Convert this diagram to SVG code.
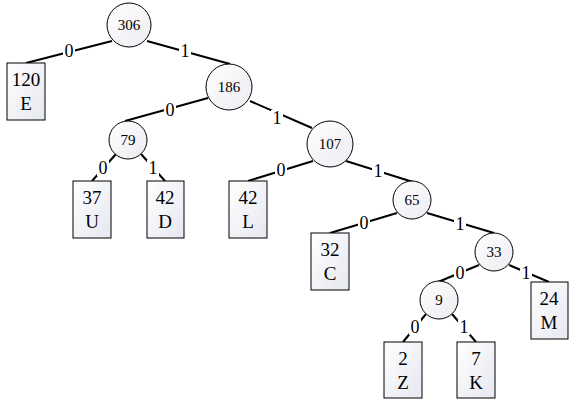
<svg xmlns="http://www.w3.org/2000/svg" width="570" height="403" viewBox="0 0 570 403">
<defs>
<linearGradient id="gb" x1="0" y1="0" x2="1" y2="1">
<stop offset="0" stop-color="#ffffff"/><stop offset="1" stop-color="#e6e8f0"/>
</linearGradient>
<linearGradient id="gc" x1="0" y1="0" x2="1" y2="1">
<stop offset="0" stop-color="#ffffff"/><stop offset="1" stop-color="#ececf2"/>
</linearGradient>
</defs>
<style>
.e{stroke:#000;stroke-width:2;fill:none}
.c{fill:url(#gc);stroke:#000;stroke-width:1}
.b{fill:url(#gb);stroke:#000;stroke-width:1}
text{font-family:"Liberation Serif","Times New Roman",serif;fill:#000;text-anchor:middle}
.cn{font-size:15px}
.bn{font-size:19px}
.lb{font-size:18px}
.lbg{fill:#fff;stroke:none}
</style>
<rect width="570" height="403" fill="#fff"/>
<g id="connectors">
<line class="e" x1="26" y1="63" x2="112" y2="41"/>
<line class="e" x1="147" y1="41" x2="230" y2="64"/>
<line class="e" x1="208" y1="98" x2="125" y2="121"/>
<line class="e" x1="250" y1="101" x2="312" y2="128"/>
<line class="e" x1="116" y1="154" x2="92" y2="181"/>
<line class="e" x1="141" y1="154" x2="165" y2="181"/>
<line class="e" x1="313" y1="161" x2="248" y2="181"/>
<line class="e" x1="346" y1="161" x2="413" y2="182"/>
<line class="e" x1="397" y1="213" x2="330" y2="233"/>
<line class="e" x1="427" y1="213" x2="494" y2="233"/>
<line class="e" x1="479" y1="265" x2="438" y2="282"/>
<line class="e" x1="509" y1="265" x2="549" y2="282"/>
<line class="e" x1="426" y1="314" x2="403" y2="342"/>
<line class="e" x1="452" y1="314" x2="476" y2="342"/>
<g id="edge-labels">
<rect class="lbg" x="63" y="43" width="12" height="16"/><text class="lb" x="69" y="57">0</text>
<rect class="lbg" x="179" y="43" width="12" height="16"/><text class="lb" x="185" y="57">1</text>
<rect class="lbg" x="164" y="102" width="12" height="16"/><text class="lb" x="170" y="116">0</text>
<rect class="lbg" x="271" y="110" width="12" height="16"/><text class="lb" x="277" y="124">1</text>
<rect class="lbg" x="97" y="160" width="12" height="16"/><text class="lb" x="103" y="174">0</text>
<rect class="lbg" x="147" y="160" width="12" height="16"/><text class="lb" x="153" y="174">1</text>
<rect class="lbg" x="275" y="162" width="12" height="16"/><text class="lb" x="281" y="176">0</text>
<rect class="lbg" x="372" y="163" width="12" height="16"/><text class="lb" x="378" y="177">1</text>
<rect class="lbg" x="358" y="215" width="12" height="16"/><text class="lb" x="364" y="229">0</text>
<rect class="lbg" x="454" y="216" width="12" height="16"/><text class="lb" x="460" y="230">1</text>
<rect class="lbg" x="454" y="265" width="12" height="16"/><text class="lb" x="460" y="279">0</text>
<rect class="lbg" x="520" y="265" width="12" height="16"/><text class="lb" x="526" y="279">1</text>
<rect class="lbg" x="409" y="319" width="12" height="16"/><text class="lb" x="415" y="333">0</text>
<rect class="lbg" x="458" y="319" width="12" height="16"/><text class="lb" x="464" y="333">1</text>
</g>
</g>
<g id="n306"><circle class="c" cx="129" cy="25" r="22"/><text class="cn" x="129" y="30">306</text></g>
<g id="n186"><circle class="c" cx="229" cy="87" r="23"/><text class="cn" x="229" y="92">186</text></g>
<g id="n79"><circle class="c" cx="128" cy="140" r="19"/><text class="cn" x="128" y="145">79</text></g>
<g id="n107"><circle class="c" cx="330" cy="144" r="23"/><text class="cn" x="330" y="149">107</text></g>
<g id="n65"><circle class="c" cx="412" cy="200" r="19"/><text class="cn" x="412" y="205">65</text></g>
<g id="n33"><circle class="c" cx="494" cy="252" r="19"/><text class="cn" x="494" y="257">33</text></g>
<g id="n9"><circle class="c" cx="439" cy="300" r="19"/><text class="cn" x="439" y="305">9</text></g>
<g id="leafE"><rect class="b" x="7" y="63" width="38" height="57"/><text class="bn" x="26" y="86">120</text><text class="bn" x="26" y="110">E</text></g>
<g id="leafU"><rect class="b" x="73" y="181" width="38" height="57"/><text class="bn" x="92" y="204">37</text><text class="bn" x="92" y="228">U</text></g>
<g id="leafD"><rect class="b" x="147" y="181" width="37" height="57"/><text class="bn" x="165" y="204">42</text><text class="bn" x="165" y="228">D</text></g>
<g id="leafL"><rect class="b" x="229" y="181" width="38" height="57"/><text class="bn" x="248" y="204">42</text><text class="bn" x="248" y="228">L</text></g>
<g id="leafC"><rect class="b" x="311" y="233" width="38" height="57"/><text class="bn" x="330" y="256">32</text><text class="bn" x="330" y="280">C</text></g>
<g id="leafM"><rect class="b" x="531" y="282" width="37" height="57"/><text class="bn" x="549" y="305">24</text><text class="bn" x="549" y="329">M</text></g>
<g id="leafZ"><rect class="b" x="384" y="342" width="38" height="56"/><text class="bn" x="403" y="365">2</text><text class="bn" x="403" y="389">Z</text></g>
<g id="leafK"><rect class="b" x="457" y="342" width="38" height="56"/><text class="bn" x="476" y="365">7</text><text class="bn" x="476" y="389">K</text></g>
</svg>
